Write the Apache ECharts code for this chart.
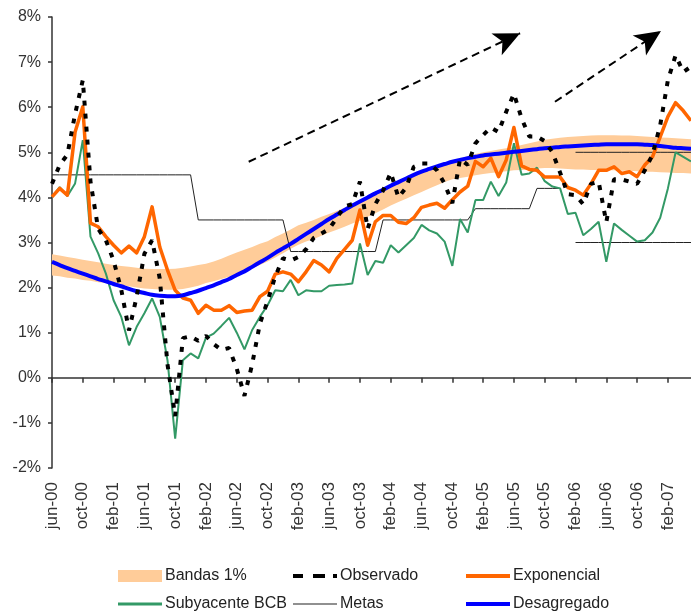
<!DOCTYPE html>
<html><head><meta charset="utf-8">
<script src="https://cdn.jsdelivr.net/npm/echarts@6/dist/echarts.min.js"></script>
<style>html,body{margin:0;padding:0;background:#fff}#c{width:691px;height:612px}</style>
</head><body><div id="c"></div>
<script>
// Months (category axis), jun-00 .. may-07
const months = ["jun-00","jul-00","ago-00","sep-00","oct-00","nov-00","dic-00",
"ene-01","feb-01","mar-01","abr-01","may-01","jun-01","jul-01","ago-01","sep-01","oct-01","nov-01","dic-01",
"ene-02","feb-02","mar-02","abr-02","may-02","jun-02","jul-02","ago-02","sep-02","oct-02","nov-02","dic-02",
"ene-03","feb-03","mar-03","abr-03","may-03","jun-03","jul-03","ago-03","sep-03","oct-03","nov-03","dic-03",
"ene-04","feb-04","mar-04","abr-04","may-04","jun-04","jul-04","ago-04","sep-04","oct-04","nov-04","dic-04",
"ene-05","feb-05","mar-05","abr-05","may-05","jun-05","jul-05","ago-05","sep-05","oct-05","nov-05","dic-05",
"ene-06","feb-06","mar-06","abr-06","may-06","jun-06","jul-06","ago-06","sep-06","oct-06","nov-06","dic-06",
"ene-07","feb-07","mar-07","abr-07","may-07"];

const bandLower = [2.27,2.25,2.22,2.20,2.17,2.15,2.12,2.10,2.08,2.05,2.03,2.00,1.98,1.97,1.96,1.95,1.95,1.97,2.00,2.04,
2.10,2.14,2.19,2.24,2.30,2.36,2.43,2.50,2.58,2.67,2.76,2.86,2.95,3.02,3.08,3.15,3.22,3.28,3.35,3.42,
3.48,3.57,3.65,3.73,3.82,3.90,3.97,4.05,4.12,4.20,4.27,4.34,4.40,4.43,4.46,4.49,4.52,4.54,4.56,4.58,
4.60,4.61,4.62,4.64,4.65,4.65,4.64,4.63,4.62,4.62,4.61,4.61,4.60,4.60,4.59,4.59,4.58,4.57,4.57,4.56,
4.55,4.54,4.54,4.53];
const bandUpper = [2.74,2.71,2.68,2.65,2.62,2.59,2.56,2.53,2.50,2.48,2.46,2.44,2.42,2.41,2.41,2.41,2.42,2.44,2.47,2.50,
2.53,2.58,2.64,2.71,2.78,2.84,2.90,2.97,3.03,3.12,3.20,3.29,3.38,3.44,3.50,3.57,3.63,3.70,3.77,3.85,
3.92,4.01,4.10,4.19,4.28,4.36,4.43,4.51,4.58,4.64,4.70,4.76,4.82,4.87,4.91,4.96,5.00,5.03,5.06,5.09,
5.12,5.16,5.20,5.24,5.28,5.30,5.32,5.34,5.35,5.36,5.37,5.38,5.38,5.38,5.37,5.37,5.36,5.35,5.34,5.33,
5.32,5.31,5.30,5.29];

const observado = [4.3,4.72,4.95,5.85,6.6,4.35,3.3,3.05,2.6,1.95,
1.05,1.8,2.75,3.05,2.2,0.3,-0.85,0.88,0.92,0.82,
0.93,0.75,0.62,0.66,0.2,-0.4,0.3,1.2,1.7,2.25,
2.65,2.6,2.68,2.85,3.1,3.2,3.3,3.55,3.8,3.85,
4.35,3.3,3.85,4.15,4.55,4.0,4.22,4.68,4.75,4.75,
4.6,4.3,3.87,4.85,4.72,5.2,5.38,5.55,5.45,5.9,
6.3,5.75,5.35,5.35,5.25,5.0,4.55,4.07,4.05,3.85,
4.3,4.35,3.45,4.4,4.4,4.35,4.3,4.6,4.95,5.6,
6.6,7.15,6.78,6.9];

const exponencial = [4.01,4.2,4.05,5.45,6.01,3.43,3.35,3.13,2.94,2.77,
2.92,2.77,3.13,3.79,2.9,2.39,1.94,1.77,1.72,1.43,
1.61,1.5,1.5,1.6,1.45,1.48,1.5,1.8,1.92,2.3,
2.35,2.3,2.13,2.35,2.6,2.5,2.35,2.65,2.85,3.05,
3.72,2.94,3.46,3.6,3.6,3.45,3.42,3.55,3.78,3.83,
3.87,3.76,3.95,4.12,4.25,4.8,4.68,4.87,4.46,4.83,
5.55,4.7,4.62,4.6,4.45,4.45,4.45,4.22,4.16,4.05,
4.3,4.6,4.6,4.68,4.53,4.57,4.46,4.72,4.9,5.34,
5.79,6.1,5.92,5.7];

const subyacente = [4.01,4.23,4.03,4.31,5.27,3.13,2.76,2.31,1.72,1.35,
0.72,1.13,1.43,1.76,1.35,0.39,-1.35,0.39,0.54,0.43,
0.89,0.98,1.15,1.33,1.0,0.63,1.06,1.35,1.61,1.94,
1.92,2.17,1.83,1.94,1.92,1.92,2.04,2.06,2.07,2.09,
2.98,2.28,2.59,2.55,2.94,2.78,2.94,3.1,3.39,3.27,
3.2,3.02,2.48,3.52,3.22,3.94,3.94,4.35,4.03,4.33,
5.2,4.5,4.53,4.66,4.36,4.24,4.2,3.63,3.66,3.16,
3.3,3.46,2.57,3.42,3.28,3.15,3.02,3.05,3.22,3.55,
4.2,5.0,4.9,4.8];

const metas = [4.5,4.5,4.5,4.5,4.5,4.5,4.5,4.5,4.5,4.5,4.5,4.5,4.5,4.5,4.5,4.5,4.5,4.5,4.5,
3.5,3.5,3.5,3.5,3.5,3.5,3.5,3.5,3.5,3.5,3.5,3.5,
2.8,2.8,2.8,2.8,2.8,2.8,2.8,2.8,2.8,2.8,2.8,2.8,
3.5,3.5,3.5,3.5,3.5,3.5,3.5,3.5,3.5,3.5,3.5,3.5,
3.75,3.75,3.75,3.75,3.75,3.75,3.75,3.75,
4.2,4.2,4.2,4.2,
null,
5.0,5.0,5.0,5.0,5.0,5.0,5.0,5.0,5.0,5.0,5.0,5.0,5.0,5.0,5.0,5.0];
const metasInferior = [null,null,null,null,null,null,null,null,null,null,null,null,null,null,null,null,null,null,null,null,
null,null,null,null,null,null,null,null,null,null,null,null,null,null,null,null,null,null,null,null,
null,null,null,null,null,null,null,null,null,null,null,null,null,null,null,null,null,null,null,null,
null,null,null,null,null,null,null,null,
3.0,3.0,3.0,3.0,3.0,3.0,3.0,3.0,3.0,3.0,3.0,3.0,3.0,3.0,3.0,3.0];

const desagregado = [2.57,2.50,2.43,2.37,2.31,2.25,2.19,2.14,2.08,2.03,
1.97,1.92,1.88,1.84,1.82,1.81,1.81,1.83,1.88,1.93,
1.99,2.05,2.12,2.19,2.28,2.36,2.46,2.56,2.66,2.77,
2.87,2.97,3.08,3.19,3.30,3.41,3.52,3.62,3.72,3.82,
3.91,4.00,4.09,4.17,4.26,4.34,4.42,4.50,4.57,4.63,
4.69,4.74,4.79,4.83,4.87,4.90,4.93,4.95,4.97,4.99,
5.01,5.03,5.05,5.07,5.09,5.10,5.12,5.13,5.14,5.15,
5.16,5.17,5.18,5.18,5.18,5.18,5.18,5.17,5.16,5.14,
5.12,5.10,5.09,5.08];

const yMin = -2, yMax = 8, yStep = 1;
// annotation arrows: [fromIndex, fromValue, toIndex, toValue] (month index, %)
const arrows = [[25.55, 4.79, 60.8, 7.64], [65.33, 6.12, 79.1, 7.69]];

const FONT = 'Liberation Sans, Arial, sans-serif';
const C_BAND = '#FFCC99', C_OBS = '#000000', C_EXP = '#FF6600', C_SUB = '#339966', C_MET = '#222222', C_DES = '#0000FF';

const bandWidth = bandUpper.map((u, i) => +(u - bandLower[i]).toFixed(3));

const chart = echarts.init(document.getElementById('c'), null, {renderer: 'canvas'});

function lg(name, left, top, icon, h) {
  return {
    data: [name], left: left, top: top, orient: 'horizontal', padding: 0,
    icon: icon, itemWidth: 44, itemHeight: h, itemGap: 0,
    itemStyle: {borderWidth: 0}, selectedMode: false,
    textStyle: {fontFamily: FONT, fontSize: 16, color: '#222', padding: [0, 0, 0, -2]}
  };
}

const option = {
  animation: false,
  backgroundColor: '#fff',
  textStyle: {fontFamily: FONT},
  grid: {left: 52, right: -4.25, top: 17, bottom: 144, containLabel: false},
  xAxis: [
    {type: 'category', data: months, boundaryGap: false,
     axisLine: {onZero: true, lineStyle: {color: '#333', width: 1.5}},
     axisTick: {show: true, interval: 3, length: 5, lineStyle: {color: '#333', width: 1.5}},
     axisLabel: {show: false}, splitLine: {show: false}},
    {type: 'category', data: months, boundaryGap: false, position: 'bottom',
     axisLine: {show: false, onZero: false}, axisTick: {show: false},
     axisLabel: {show: true, interval: 3, rotate: 90, margin: 14, fontSize: 17, color: '#333', fontFamily: FONT},
     splitLine: {show: false}},
    {type: 'value', min: 0, max: months.length - 1, show: false}
  ],
  yAxis: {type: 'value', min: yMin, max: yMax, interval: yStep,
    axisLine: {show: true, lineStyle: {color: '#333', width: 1.5}},
    axisTick: {show: true, length: 4, lineStyle: {color: '#333', width: 1.5}},
    axisLabel: {formatter: '{value}%', fontSize: 16, color: '#333', margin: 11, fontFamily: FONT},
    splitLine: {show: false}},
  legend: [
    lg('Bandas 1%', 118, 568, 'rect', 12),
    lg('Subyacente BCB', 118, 596, 'path://M0,0H44V3H0Z', 3),
    lg('Observado', 293, 568, 'path://M0,0H10V4H0Z M20,0H32V4H20Z M40,0H44V4H40Z', 4),
    lg('Metas', 293, 596, 'path://M0,0H44V1.2H0Z', 1.2),
    lg('Exponencial', 466, 568, 'path://M0,0H44V4H0Z', 4),
    lg('Desagregado', 466, 596, 'path://M0,0H44V4H0Z', 4)
  ],
  series: [
    {name: 'banda_inf', type: 'line', stack: 'band', data: bandLower, symbol: 'none',
     lineStyle: {opacity: 0}, areaStyle: {opacity: 0}, silent: true, z: 1},
    {name: 'Bandas 1%', type: 'line', stack: 'band', data: bandWidth, symbol: 'none', color: C_BAND,
     lineStyle: {opacity: 0, width: 0}, areaStyle: {color: C_BAND, opacity: 1}, silent: true, z: 1},
    {name: 'Metas', type: 'line', data: metas, symbol: 'none', color: C_MET,
     lineStyle: {color: C_MET, width: 1}, z: 2},
    {name: 'Metas', type: 'line', data: metasInferior, symbol: 'none', color: C_MET,
     lineStyle: {color: C_MET, width: 1}, z: 2},
    {name: 'Subyacente BCB', type: 'line', data: subyacente, symbol: 'none', color: C_SUB,
     lineStyle: {color: C_SUB, width: 2}, z: 3},
    {name: 'Exponencial', type: 'line', data: exponencial, symbol: 'none', color: C_EXP,
     lineStyle: {color: C_EXP, width: 3.5, join: 'round'}, z: 4},
    {name: 'Desagregado', type: 'line', data: desagregado, symbol: 'none', color: C_DES, smooth: 0.3,
     lineStyle: {color: C_DES, width: 4}, z: 5},
    {name: 'Observado', type: 'line', data: observado, symbol: 'none', color: C_OBS,
     lineStyle: {color: C_OBS, width: 4, type: [5, 8], cap: 'butt'}, z: 6},
    {name: 'flechas', type: 'line', xAxisIndex: 2, data: [], symbol: 'none', silent: true, z: 7,
     markLine: {silent: true, animation: false, symbol: ['none', 'arrow'], symbolSize: [18, 26],
       label: {show: false},
       lineStyle: {color: '#000', width: 2, type: [8, 5]},
       emphasis: {disabled: true},
       data: arrows.map(a => [{coord: [a[0], a[1]]}, {coord: [a[2], a[3]]}])}}
  ]
};
chart.setOption(option);
</script>
</body></html>
